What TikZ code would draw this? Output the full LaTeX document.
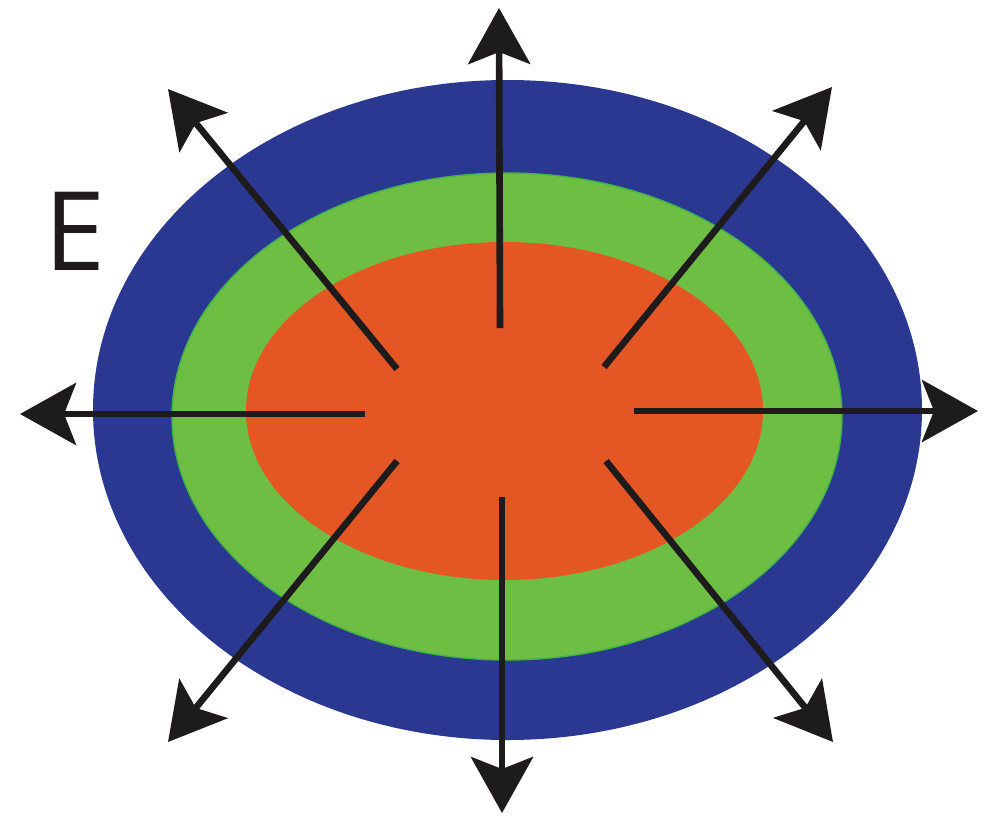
\documentclass[tikz,border=0pt]{standalone}
\usepackage{fontspec}
\setsansfont{Open Sans}
\usepackage{tikz}
\usetikzlibrary{arrows.meta}
\definecolor{OuterBlue}{RGB}{42,56,146}
\definecolor{MidGreen}{RGB}{111,190,68}
\definecolor{EdgeGreen}{RGB}{64,178,72}
\definecolor{CoreOrange}{RGB}{228,86,36}
\definecolor{ArrowBlack}{RGB}{30,27,28}
\tikzset{
  field/.style={-{Stealth[length=1.4cm, width=1.55cm, inset=0.3cm]}, line width=4.7pt, ArrowBlack}
}
\begin{document}
\begin{tikzpicture}[x=0.025cm, y=-0.025cm]
      \useasboundingbox (0,0) rectangle (999,818);
      \fill[OuterBlue] (507.5,410) ellipse [x radius=414.5, y radius=330];
      \fill[MidGreen, draw=EdgeGreen, line width=1pt] (507,416.5) ellipse [x radius=335, y radius=243.5];
      \fill[CoreOrange] (504.5,411) ellipse [x radius=258.5, y radius=169];
      % field lines
      \coordinate (n0) at (500,328);  \coordinate (n1) at (499,8);
      \coordinate (s0) at (502,497);  \coordinate (s1) at (502,813);
      \coordinate (w0) at (365,414);  \coordinate (w1) at (20,414);
      \coordinate (e0) at (634,411);  \coordinate (e1) at (978,411);
      \coordinate (nw0) at (397,369); \coordinate (nw1) at (168,89);
      \coordinate (ne0) at (604,367); \coordinate (ne1) at (832,87);
      \coordinate (sw0) at (397,461); \coordinate (sw1) at (168,742);
      \coordinate (se0) at (606,461); \coordinate (se1) at (833,742);
      \foreach \d in {n,s,w,e,nw,ne,sw,se}
        \draw[field] (\d0) -- (\d1);
      \node[font=\sffamily\fontsize{78}{88}\selectfont, ArrowBlack, inner sep=0pt] (lblE) at (75,231) {E};
\end{tikzpicture}
\end{document}
